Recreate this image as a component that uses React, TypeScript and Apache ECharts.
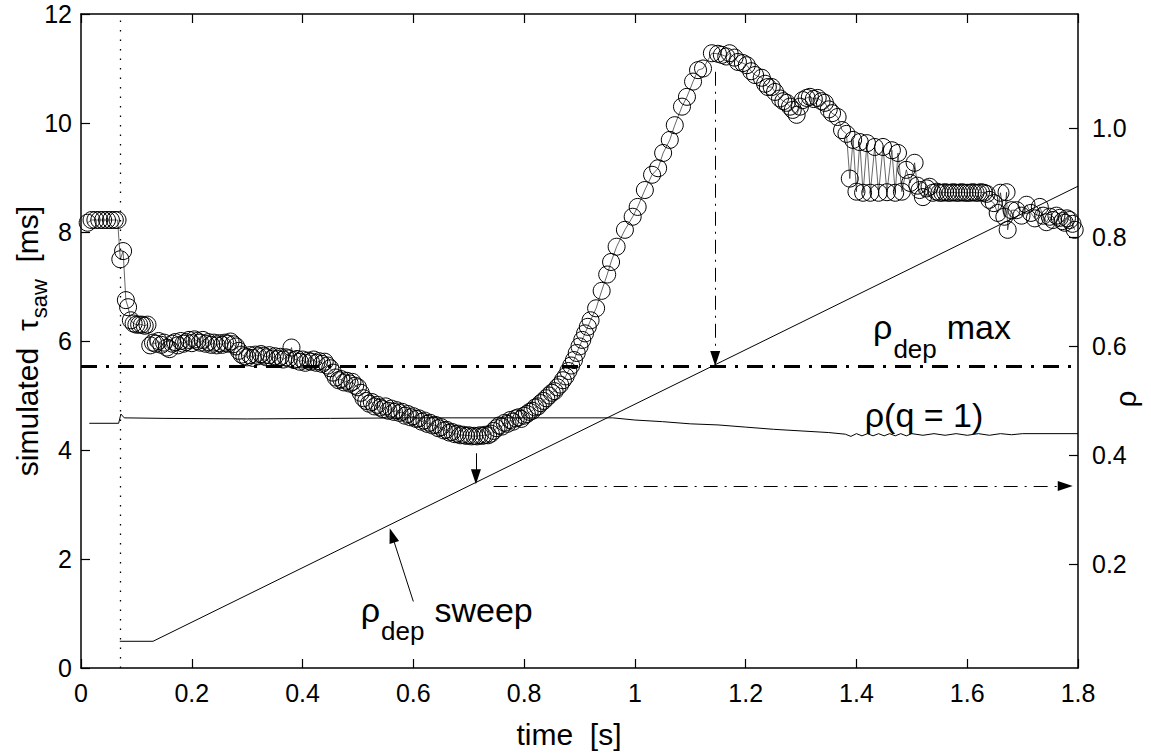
import React, { useEffect, useRef } from 'react';
import * as echarts from 'echarts';

const FONT = '"Liberation Sans", Arial, Helvetica, sans-serif';

// x axis (time [s]) and left/right axes ranges
const timeRange = [0, 1.8];
const tauRange = [0, 12];
const rhoRange = [0.01, 1.21];

// simulated tau_saw [ms] samples (time [s], value [ms])
const tauSaw: [number, number][] = [
  [0.012, 8.17], [0.019, 8.22], [0.026, 8.22], [0.033, 8.22], [0.04, 8.22], [0.047, 8.22], [0.054, 8.22], [0.061, 8.22], [0.066, 8.22],
  [0.071, 7.5], [0.076, 7.65], [0.081, 6.75], [0.085, 6.62], [0.09, 6.38], [0.095, 6.32], [0.1, 6.3], [0.105, 6.3], [0.11, 6.3], [0.115, 6.28], [0.12, 6.3],
  [0.125, 5.92], [0.13, 5.97], [0.135, 5.95], [0.14, 6.0], [0.145, 5.93], [0.15, 5.97], [0.155, 5.88], [0.16, 5.85], [0.165, 5.95], [0.17, 5.98],
  [0.175, 5.92], [0.18, 6.0], [0.185, 5.95], [0.19, 5.98], [0.195, 6.02], [0.2, 5.96], [0.205, 6.03], [0.21, 6.0], [0.215, 5.97], [0.22, 6.02],
  [0.225, 5.95], [0.23, 5.98], [0.235, 5.93], [0.24, 5.97], [0.245, 5.92], [0.25, 5.96], [0.255, 5.93], [0.26, 5.97], [0.265, 5.95], [0.27, 5.99],
  [0.275, 5.94], [0.28, 5.9], [0.285, 5.82], [0.29, 5.75], [0.295, 5.72], [0.3, 5.7], [0.305, 5.74], [0.31, 5.69], [0.315, 5.75], [0.32, 5.72],
  [0.325, 5.76], [0.33, 5.73], [0.335, 5.7], [0.34, 5.74], [0.345, 5.68], [0.35, 5.72], [0.355, 5.67], [0.36, 5.71], [0.365, 5.66], [0.37, 5.7],
  [0.375, 5.68], [0.38, 5.88], [0.385, 5.65], [0.39, 5.67], [0.395, 5.62], [0.4, 5.66], [0.405, 5.6], [0.41, 5.64], [0.415, 5.62], [0.42, 5.66],
  [0.425, 5.6], [0.43, 5.63], [0.435, 5.58], [0.44, 5.62], [0.445, 5.55], [0.45, 5.5], [0.455, 5.42], [0.46, 5.33], [0.465, 5.28], [0.47, 5.3],
  [0.475, 5.24], [0.48, 5.27], [0.485, 5.22], [0.49, 5.25], [0.495, 5.18], [0.5, 5.15], [0.505, 5.05], [0.51, 4.95], [0.515, 4.9], [0.52, 4.85],
  [0.525, 4.88], [0.53, 4.8], [0.535, 4.83], [0.54, 4.78], [0.545, 4.75], [0.55, 4.8], [0.555, 4.72], [0.56, 4.76], [0.565, 4.7], [0.57, 4.73],
  [0.575, 4.68], [0.58, 4.7], [0.585, 4.63], [0.59, 4.66], [0.595, 4.6], [0.6, 4.62], [0.605, 4.57], [0.61, 4.58], [0.615, 4.52], [0.62, 4.54],
  [0.625, 4.48], [0.63, 4.5], [0.635, 4.45], [0.64, 4.46], [0.645, 4.4], [0.65, 4.42], [0.655, 4.36], [0.66, 4.37], [0.665, 4.32], [0.67, 4.33],
  [0.675, 4.29], [0.68, 4.3], [0.685, 4.27], [0.69, 4.28], [0.695, 4.26], [0.7, 4.27], [0.705, 4.25], [0.71, 4.26], [0.715, 4.25], [0.72, 4.27],
  [0.725, 4.26], [0.73, 4.28], [0.735, 4.27], [0.74, 4.3], [0.745, 4.35], [0.75, 4.4], [0.755, 4.45], [0.76, 4.43], [0.765, 4.5], [0.77, 4.48],
  [0.775, 4.55], [0.78, 4.52], [0.785, 4.58], [0.79, 4.6], [0.795, 4.57], [0.8, 4.63], [0.805, 4.66], [0.81, 4.7], [0.815, 4.72], [0.82, 4.78],
  [0.825, 4.8], [0.83, 4.86], [0.835, 4.9], [0.84, 4.95], [0.845, 5.0], [0.85, 5.05], [0.855, 5.08], [0.86, 5.15], [0.865, 5.2], [0.87, 5.28],
  [0.875, 5.35], [0.88, 5.45], [0.885, 5.55], [0.89, 5.65], [0.895, 5.78], [0.9, 5.9], [0.905, 6.02], [0.91, 6.14], [0.915, 6.26], [0.92, 6.38],
  [0.93, 6.6], [0.94, 6.92], [0.95, 7.22], [0.957, 7.45], [0.967, 7.73], [0.982, 8.04], [0.996, 8.28], [1.005, 8.46], [1.018, 8.77], [1.031, 9.05],
  [1.042, 9.17], [1.051, 9.45], [1.063, 9.69], [1.072, 9.96], [1.085, 10.3], [1.094, 10.48], [1.105, 10.76], [1.114, 10.97], [1.123, 11.0],
  [1.139, 11.28], [1.15, 11.27], [1.157, 11.25], [1.165, 11.22], [1.171, 11.28], [1.18, 11.2], [1.186, 11.12], [1.195, 11.1], [1.202, 11.06],
  [1.21, 10.95], [1.217, 10.88], [1.229, 10.83], [1.235, 10.72], [1.24, 10.66], [1.247, 10.66], [1.253, 10.57], [1.262, 10.45], [1.268, 10.4],
  [1.274, 10.37], [1.28, 10.3], [1.285, 10.24], [1.292, 10.15], [1.298, 10.3], [1.303, 10.42], [1.31, 10.46], [1.316, 10.48], [1.323, 10.44],
  [1.33, 10.46], [1.337, 10.4], [1.343, 10.37], [1.35, 10.25], [1.356, 10.18], [1.366, 10.11], [1.374, 9.87], [1.382, 9.8], [1.388, 8.98],
  [1.394, 9.69], [1.4, 8.74], [1.406, 9.65], [1.412, 8.72], [1.419, 9.63], [1.425, 8.72], [1.433, 9.56], [1.44, 8.72], [1.448, 9.56], [1.455, 8.73],
  [1.464, 9.5], [1.47, 8.72], [1.475, 9.45], [1.482, 8.74], [1.49, 9.14], [1.497, 8.9], [1.505, 9.27], [1.51, 8.85], [1.514, 8.77], [1.52, 8.64],
  [1.527, 8.8], [1.532, 8.83], [1.538, 8.72], [1.545, 8.74], [1.55, 8.72], [1.555, 8.72], [1.56, 8.73], [1.565, 8.72], [1.57, 8.72], [1.575, 8.73],
  [1.58, 8.72], [1.585, 8.72], [1.59, 8.73], [1.595, 8.72], [1.6, 8.72], [1.605, 8.72], [1.61, 8.73], [1.615, 8.72], [1.62, 8.72], [1.625, 8.73],
  [1.63, 8.72], [1.635, 8.7], [1.64, 8.59], [1.648, 8.53], [1.655, 8.35], [1.66, 8.72], [1.667, 8.28], [1.671, 8.73], [1.673, 8.04], [1.68, 8.4],
  [1.689, 8.4], [1.698, 8.3], [1.707, 8.5], [1.715, 8.35], [1.722, 8.25], [1.731, 8.46], [1.737, 8.3], [1.743, 8.18], [1.749, 8.28], [1.755, 8.22],
  [1.761, 8.3], [1.767, 8.26], [1.772, 8.2], [1.776, 8.17], [1.78, 8.25], [1.785, 8.22], [1.79, 8.15], [1.794, 8.04],
];

// rho(q = 1) radius (right axis)
const rhoQ1: [number, number][] = [
  [0.015, 0.459], [0.068, 0.459], [0.072, 0.476], [0.078, 0.469], [0.15, 0.468], [0.3, 0.467], [0.45, 0.468], [0.6, 0.469], [0.8, 0.469],
  [0.96, 0.469], [1.0, 0.465], [1.05, 0.462], [1.1, 0.458], [1.15, 0.456], [1.2, 0.452], [1.25, 0.448], [1.3, 0.445], [1.35, 0.442], [1.38, 0.439],
  [1.39, 0.435], [1.4, 0.44], [1.41, 0.436], [1.42, 0.44], [1.43, 0.436], [1.44, 0.44], [1.45, 0.436], [1.46, 0.44], [1.47, 0.436],
  [1.48, 0.44], [1.49, 0.436], [1.5, 0.44], [1.52, 0.437], [1.54, 0.44], [1.56, 0.437], [1.58, 0.44], [1.6, 0.437], [1.62, 0.44],
  [1.64, 0.437], [1.66, 0.44], [1.68, 0.438], [1.7, 0.44], [1.8, 0.44],
];

// rho_dep sweep (right axis)
const rhoDepSweep: [number, number][] = [[0.07, 0.059], [0.13, 0.059], [1.8, 0.894]];

// annotation values (right axis units)
const switchOnTime = 0.07;
const rhoDepMax = 0.564;
const peakArrow: [number, number][] = [[1.145, 1.104], [1.145, 0.578]];
const minArrow: [number, number][] = [[0.713, 0.404], [0.713, 0.361]];
const transferArrow: [number, number][] = [[0.745, 0.344], [1.777, 0.344]];
const sweepArrow: [number, number][] = [[0.6, 0.132], [0.5615, 0.2535]];

const measureCtx = typeof document !== 'undefined' ? document.createElement('canvas').getContext('2d') : null;
function textWidth(s: string, size: number) {
  if (!measureCtx) return s.length * size * 0.55;
  measureCtx.font = `${size}px ${FONT}`;
  return measureCtx.measureText(s).width;
}

type Piece = { text: string; size: number; dy?: number; gap?: number };
function pieces(list: Piece[], x0: number, baseline: number) {
  const out: any[] = [];
  let x = x0;
  for (const p of list) {
    x += p.gap || 0;
    out.push({
      type: 'text',
      silent: true,
      x,
      y: baseline + (p.dy || 0) - 0.35 * p.size,
      style: { text: p.text, font: `${p.size}px ${FONT}`, fill: '#000', align: 'left', verticalAlign: 'middle' },
    });
    x += textWidth(p.text, p.size);
  }
  return { items: out, width: x - x0 };
}

export default function App() {
  const ref = useRef<HTMLDivElement>(null);
  useEffect(() => {
    if (!ref.current) return;
    const chart = echarts.init(ref.current, null, { renderer: 'svg' });
    const axisLine = { show: true, onZero: false, lineStyle: { color: '#000', width: 1.5 } };
    const axisTick = { show: true, inside: true, length: 9, lineStyle: { color: '#000', width: 1.2 } };
    const label = { color: '#000', fontSize: 25, fontFamily: FONT };
    const option: any = {
      animation: false,
      backgroundColor: '#fff',
      grid: { left: 81, right: 73, top: 14, bottom: 86, containLabel: false },
      xAxis: [
        {
          type: 'value', min: timeRange[0], max: timeRange[1], interval: 0.2, position: 'bottom',
          axisLine, axisTick, splitLine: { show: false },
          axisLabel: { ...label, margin: 12, formatter: (v: number) => String(parseFloat(v.toFixed(1))) },
        },
        {
          type: 'value', min: timeRange[0], max: timeRange[1], interval: 0.2, position: 'top',
          axisLine, axisTick, splitLine: { show: false }, axisLabel: { show: false },
        },
      ],
      yAxis: [
        {
          type: 'value', min: tauRange[0], max: tauRange[1], interval: 2, position: 'left',
          axisLine, axisTick, splitLine: { show: false }, axisLabel: { ...label, margin: 9 },
        },
        {
          type: 'value', min: rhoRange[0], max: rhoRange[1], splitNumber: 6, position: 'right',
          axisLine, axisTick: { ...axisTick, customValues: [0.2, 0.4, 0.6, 0.8, 1.0] }, splitLine: { show: false },
          axisLabel: {
            ...label, margin: 14, customValues: [0.2, 0.4, 0.6, 0.8, 1.0],
            formatter: (v: number) => (v > 0.1 && v < 1.1 ? v.toFixed(1) : ''),
          },
        },
      ],
      series: [
        {
          name: 'rho(q=1)', type: 'line', xAxisIndex: 0, yAxisIndex: 1, data: rhoQ1, symbol: 'none',
          lineStyle: { color: '#000', width: 1 }, silent: true, z: 2,
        },
        {
          name: 'rho_dep sweep', type: 'line', xAxisIndex: 0, yAxisIndex: 1, data: rhoDepSweep, symbol: 'none',
          lineStyle: { color: '#000', width: 1 }, silent: true, z: 2,
          markLine: {
            silent: true, animation: false,
            symbol: ['none', 'none'],
            label: { show: false },
            emphasis: { disabled: true },
            data: [
              { xAxis: switchOnTime, lineStyle: { color: '#000', width: 1.3, type: [1.5, 8] } },
              [
                { coord: [timeRange[0], rhoDepMax], lineStyle: { color: '#000', width: 3, type: [16, 9, 3, 9] } },
                { coord: [timeRange[1], rhoDepMax] },
              ],
              [
                { coord: peakArrow[0], lineStyle: { color: '#000', width: 1, type: [14, 6, 2, 6] } },
                { coord: peakArrow[1], symbol: 'triangle', symbolSize: [10, 15] },
              ],
              [
                { coord: minArrow[0], lineStyle: { color: '#000', width: 1, type: 'solid' } },
                { coord: minArrow[1], symbol: 'triangle', symbolSize: [10, 15] },
              ],
              [
                { coord: transferArrow[0], lineStyle: { color: '#000', width: 1, type: [14, 7, 2, 7] } },
                { coord: transferArrow[1], symbol: 'triangle', symbolSize: [10, 15] },
              ],
              [
                { coord: sweepArrow[0], lineStyle: { color: '#000', width: 1, type: 'solid' } },
                { coord: sweepArrow[1], symbol: 'triangle', symbolSize: [10, 15] },
              ],
            ],
          },
        },
        {
          name: 'tau_saw', type: 'line', xAxisIndex: 0, yAxisIndex: 0, data: tauSaw,
          symbol: 'circle', symbolSize: 17, showSymbol: true, showAllSymbol: true,
          itemStyle: { color: 'rgba(0,0,0,0)', borderColor: '#000', borderWidth: 1 },
          lineStyle: { color: '#000', width: 0.6 }, silent: true, z: 3,
        },
      ],
    };
    chart.setOption(option);

    const px = (t: number, v: number) => chart.convertToPixel({ xAxisIndex: 0, yAxisIndex: 0 }, [t, v]) as number[];
    const g: any[] = [];

    // rho_dep max
    const a = px(1.43, 6.04);
    g.push(...pieces([
      { text: 'ρ', size: 34 },
      { text: 'dep', size: 26, dy: 19, gap: 1 },
      { text: 'max', size: 34, gap: 10 },
    ], a[0], a[1]).items);

    // rho(q = 1)
    const b = px(1.415, 4.42);
    g.push(...pieces([{ text: 'ρ(q = 1)', size: 34 }], b[0], b[1]).items);

    // rho_dep sweep
    const c = px(0.505, 0.84);
    g.push(...pieces([
      { text: 'ρ', size: 34 },
      { text: 'dep', size: 26, dy: 18, gap: 1 },
      { text: 'sweep', size: 34, gap: 10 },
    ], c[0], c[1]).items);

    // x title
    const xt = pieces([{ text: 'time  [s]', size: 30 }], 0, 0);
    g.push(...pieces([{ text: 'time  [s]', size: 30 }], 569 - xt.width / 2, 745).items);

    // y title (rotated)
    const ytList: Piece[] = [
      { text: 'simulated  τ', size: 30 },
      { text: 'saw', size: 22, dy: 9, gap: 1 },
      { text: '  [ms]', size: 30 },
    ];
    const yt = pieces(ytList, 0, 0);
    g.push({
      type: 'group', x: 38, y: 341 + yt.width / 2, rotation: Math.PI / 2, silent: true,
      children: yt.items,
    });

    // right title
    const rt = pieces([{ text: 'ρ', size: 30 }], 0, 0);
    g.push({
      type: 'group', x: 1136, y: 399 + rt.width / 2, rotation: Math.PI / 2, silent: true,
      children: rt.items,
    });

    chart.setOption({ graphic: g });
    return () => chart.dispose();
  }, []);
  return <div ref={ref} style={{ position: 'fixed', left: 0, top: 0, width: 1151, height: 754 }} />;
}
